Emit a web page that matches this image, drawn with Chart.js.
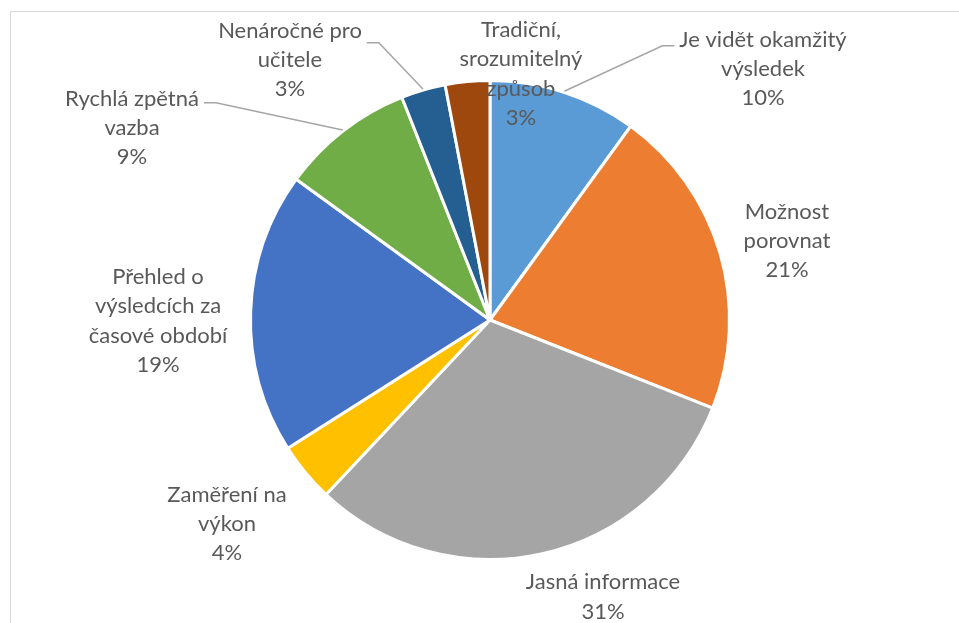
<!DOCTYPE html>
<html>
<head>
<meta charset="utf-8">
<script src="https://cdn.jsdelivr.net/npm/chart.js@4"></script>
<style>
    html, body { margin: 0; padding: 0; background: #fff; }
    #wrap { position: relative; width: 959px; height: 623px; overflow: hidden; }
    #frame {
        position: absolute; left: 10px; top: 11px; width: 980px; height: 640px;
        border-left: 1.5px solid #d9d9d9; border-top: 1.5px solid #d9d9d9;
    }
    #myChart { position: absolute; left: 0; top: 0; }
</style>
</head>
<body>
<div id="wrap">
    <div id="frame"></div>
    <canvas id="myChart" width="959" height="623"></canvas>
</div>
<script>
// categories (wrapped as in the original) and their shares in percent
const categories = [
    ['Je vidět okamžitý', 'výsledek'],
    ['Možnost', 'porovnat'],
    ['Jasná informace'],
    ['Zaměření na', 'výkon'],
    ['Přehled o', 'výsledcích za', 'časové období'],
    ['Rychlá zpětná', 'vazba'],
    ['Nenáročné pro', 'učitele'],
    ['Tradiční,', 'srozumitelný', 'způsob'],
];
const shares = [10, 21, 31, 4, 19, 9, 3, 3];
const sliceColors = ['#5b9bd5', '#ed7d31', '#a5a5a5', '#ffc000', '#4472c4', '#70ad47', '#255e91', '#9e480e'];

// where each label block sits, relative to the pie centre (px)
const labelOffsets = [
    [273, -251], [297, -79], [113, 277], [-263, 204],
    [-332, 1], [-358, -192], [-200, -260], [31, -246],
];
// leader lines: side of the label the line attaches to, and its y shift from the first line
const leaders = [
    { side: 'left', dy: 6 }, null, null, null, null,
    { side: 'right', dy: 4 }, { side: 'right', dy: 12 }, null,
];

const FONT = '22px Lato, "Open Sans", sans-serif';
const LINE_H = 29.3;

const labelPlugin = {
    id: 'sliceLabels',
    afterDatasetsDraw(chart) {
        const ctx = chart.ctx;
        const arcs = chart.getDatasetMeta(0).data;
        ctx.save();
        ctx.font = FONT;
        ctx.textAlign = 'center';
        ctx.textBaseline = 'middle';
        arcs.forEach((arc, i) => {
            const lines = categories[i].concat([shares[i] + '%']);
            const cx = arc.x + labelOffsets[i][0];
            const cy = arc.y + labelOffsets[i][1];
            const top = cy - (lines.length - 1) * LINE_H / 2;

            const leader = leaders[i];
            if (leader) {
                const mid = (arc.startAngle + arc.endAngle) / 2;
                const r = arc.outerRadius + 1;
                const sx = arc.x + Math.cos(mid) * r;
                const sy = arc.y + Math.sin(mid) * r;
                const halfW = ctx.measureText(lines[0]).width / 2;
                const ly = top + leader.dy;
                const dir = leader.side === 'left' ? -1 : 1;
                const endX = cx + dir * (halfW + 5);
                const elbowX = endX + dir * 12;
                ctx.strokeStyle = '#a6a6a6';
                ctx.lineWidth = 1.5;
                ctx.beginPath();
                ctx.moveTo(sx, sy);
                ctx.lineTo(elbowX, ly);
                ctx.lineTo(endX, ly);
                ctx.stroke();
            }

            ctx.fillStyle = '#595959';
            lines.forEach((text, k) => {
                ctx.fillText(text, cx, top + k * LINE_H);
            });
        });
        ctx.restore();
    },
};

const ctx = document.getElementById('myChart').getContext('2d');
new Chart(ctx, {
    type: 'pie',
    data: {
        labels: categories.map(c => c.join(' ')),
        datasets: [{
            data: shares,
            backgroundColor: sliceColors,
            borderColor: '#ffffff',
            borderWidth: 3,
            hoverOffset: 0,
        }],
    },
    options: {
        responsive: false,
        animation: false,
        events: [],
        layout: {
            padding: { left: 249, right: 228, top: 79, bottom: 62 },
        },
        plugins: {
            legend: { display: false },
            tooltip: { enabled: false },
        },
    },
    plugins: [labelPlugin],
});
</script>
</body>
</html>
